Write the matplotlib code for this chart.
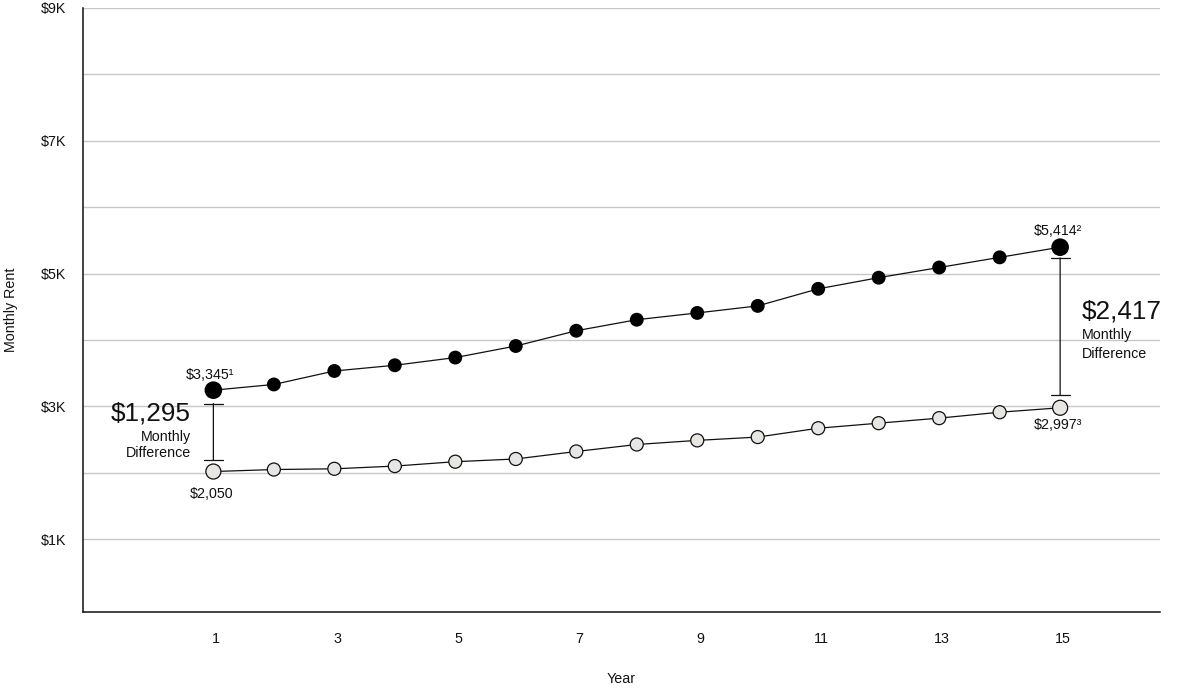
import matplotlib
matplotlib.use("Agg")
import matplotlib.pyplot as plt
import matplotlib.transforms as mtransforms
from matplotlib.ticker import FixedLocator

plt.rcParams['font.family'] = ['Liberation Sans', 'DejaVu Sans']

# data
years = list(range(1, 16))
rent_high = [3245, 3331, 3534, 3620, 3736, 3910, 4140, 4306, 4408, 4514,
             4771, 4939, 5092, 5245, 5398]
rent_low = [2020, 2050, 2061, 2102, 2168, 2209, 2322, 2427, 2489, 2539,
            2672, 2748, 2824, 2913, 2980]

high_labels = ["$3,345\u00b9", "$5,414\u00b2"]
low_labels = ["$2,050", "$2,997\u00b3"]
diff_labels = ["$1,295", "$2,417"]

x_ticks = [1, 3, 5, 7, 9, 11, 13, 15]
y_major = [1000, 3000, 5000, 7000, 9000]
y_minor = [2000, 4000, 6000, 8000]

FS = 10.3      # small text
FS_BIG = 18.8  # difference figures
INK = '#111111'

fig = plt.figure(figsize=(11.87, 6.88), dpi=100)
ax = fig.add_axes([0.0702, 0.110, 0.907, 0.8784])

ax.set_xlim(-1.15, 16.65)
ax.set_ylim(-100, 9000)

# grid
ax.yaxis.set_major_locator(FixedLocator(y_major))
ax.yaxis.set_minor_locator(FixedLocator(y_minor))
ax.set_yticklabels([f"${v // 1000}K" for v in y_major])
ax.grid(axis='y', which='both', color='#c8c8c8', lw=1.0, zorder=0)
ax.set_axisbelow(True)
ax.set_xticks(x_ticks)
ax.set_xticklabels([str(t) for t in x_ticks])
ax.tick_params(axis='both', which='both', length=0, labelsize=FS, colors=INK)
ax.tick_params(axis='x', pad=14)
ax.tick_params(axis='y', pad=12)

# year labels sit a hair right of the points in the original
nudge = mtransforms.ScaledTranslation(0.03, 0, fig.dpi_scale_trans)
for lbl in ax.get_xticklabels():
    lbl.set_transform(lbl.get_transform() + nudge)

for s in ['top', 'right']:
    ax.spines[s].set_visible(False)
for s in ['left', 'bottom']:
    ax.spines[s].set_linewidth(1.1)
    ax.spines[s].set_color(INK)

ax.set_xlabel("Year", fontsize=FS, labelpad=19, color=INK)
ax.set_ylabel("Monthly Rent", fontsize=FS, labelpad=17, color=INK)

# lines + markers
ax.plot(years, rent_high, color=INK, lw=0.9, zorder=3)
ax.plot(years, rent_low, color=INK, lw=0.9, zorder=3)

sizes_hi = [161 if i in (0, len(years) - 1) else 100 for i in range(len(years))]
sizes_lo = [117 if i in (0, len(years) - 1) else 88 for i in range(len(years))]
ax.scatter(years, rent_high, s=sizes_hi, color='black', edgecolor='none', zorder=4)
ax.scatter(years, rent_low, s=sizes_lo, facecolor='#e8e6e2', edgecolor=INK,
           linewidths=0.9, zorder=4)

# endpoint labels
ends = [0, len(years) - 1]
hi_off = [(-2.4, 8.4), (-1.8, 9.1)]
lo_off = [(-1.0, -18.9), (-1.8, -15.6)]
for k, i in enumerate(ends):
    ax.annotate(high_labels[k], (years[i], rent_high[i]), xytext=hi_off[k],
                textcoords='offset points', ha='center', va='baseline',
                fontsize=FS, color=INK)
    ax.annotate(low_labels[k], (years[i], rent_low[i]), xytext=lo_off[k],
                textcoords='offset points', ha='center', va='baseline',
                fontsize=FS, color=INK)

# difference brackets
shrinks = [(9.6, 8.1), (7.7, 8.9)]
for k, i in enumerate(ends):
    ax.annotate('', xy=(years[i], rent_low[i]), xytext=(years[i], rent_high[i]),
                arrowprops=dict(arrowstyle='|-|,widthA=0.68,widthB=0.68',
                                color=INK, lw=0.9,
                                shrinkA=shrinks[k][0], shrinkB=shrinks[k][1]),
                zorder=3)

mid_l = (rent_high[0] + rent_low[0]) / 2
mid_r = (rent_high[-1] + rent_low[-1]) / 2

ax.annotate(diff_labels[0], (years[0], mid_l), xytext=(-16, 7.6),
            textcoords='offset points', ha='right', va='baseline',
            fontsize=FS_BIG, color=INK)
ax.annotate("Monthly", (years[0], mid_l), xytext=(-16, -7.3),
            textcoords='offset points', ha='right', va='baseline',
            fontsize=FS, color=INK)
ax.annotate("Difference", (years[0], mid_l), xytext=(-16, -18.8),
            textcoords='offset points', ha='right', va='baseline',
            fontsize=FS, color=INK)

ax.annotate(diff_labels[1], (years[-1], mid_r), xytext=(15.6, 6.7),
            textcoords='offset points', ha='left', va='baseline',
            fontsize=FS_BIG, color=INK)
ax.annotate("Monthly", (years[-1], mid_r), xytext=(15.6, -8.1),
            textcoords='offset points', ha='left', va='baseline',
            fontsize=FS, color=INK)
ax.annotate("Difference", (years[-1], mid_r), xytext=(15.6, -21.7),
            textcoords='offset points', ha='left', va='baseline',
            fontsize=FS, color=INK)

fig.savefig("out.png", dpi=100)
